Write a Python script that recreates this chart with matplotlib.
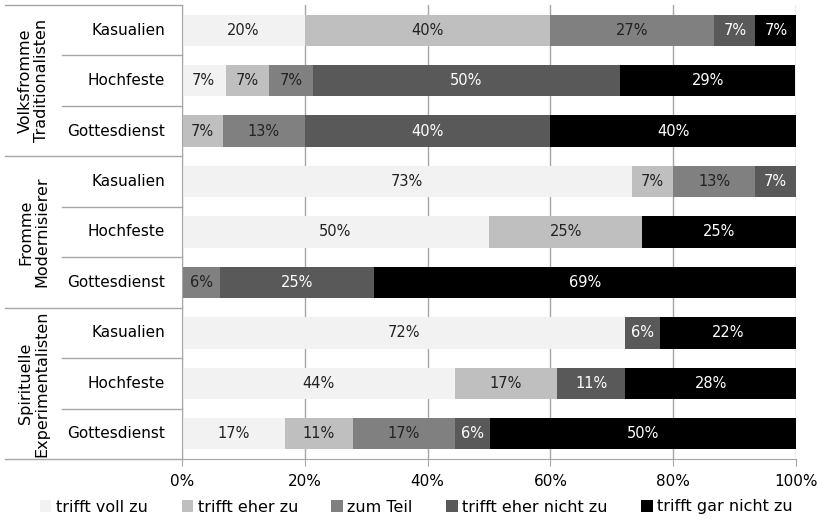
import matplotlib
matplotlib.use("Agg")
import matplotlib.pyplot as plt
import matplotlib.transforms as mtransforms

# data (percent)
groups = ["Volksfromme\nTraditionalisten", "Fromme\nModernisierer", "Spirituelle\nExperimentalisten"]
items = ["Kasualien", "Hochfeste", "Gottesdienst"]
answers = ["trifft voll zu", "trifft eher zu", "zum Teil", "trifft eher nicht zu", "trifft gar nicht zu"]

voll = [20.0, 7.1, 0, 73.3, 50.0, 0, 72.2, 44.4, 16.7]
eher = [40.0, 7.1, 6.7, 6.7, 25.0, 0, 0, 16.7, 11.1]
teil = [26.7, 7.1, 13.3, 13.3, 0, 6.2, 0, 0, 16.7]
eher_nicht = [6.7, 50.0, 40.0, 6.7, 0, 25.0, 5.6, 11.1, 5.6]
gar_nicht = [6.7, 28.6, 40.0, 0, 25.0, 68.8, 22.2, 27.8, 50.0]

series = [voll, eher, teil, eher_nicht, gar_nicht]
colors = ["#f2f2f2", "#bfbfbf", "#808080", "#595959", "#000000"]
text_colors = ["#222222", "#222222", "#222222", "white", "white"]

fig = plt.figure(figsize=(8.2, 5.19), dpi=100)
W, H = 820, 519
ax = fig.add_axes([182 / W, 1 - 459 / H, (796 - 182) / W, (459 - 5) / H])

n = len(voll)
rows = list(range(n))
left = [0] * n
for vals, c, tc, lab in zip(series, colors, text_colors, answers):
    ax.barh(rows, vals, left=left, height=0.62, color=c, label=lab, zorder=2)
    for r in rows:
        if vals[r] > 0:
            ax.text(left[r] + vals[r] / 2, r, "%d%%" % round(vals[r]),
                    ha="center", va="center", color=tc, fontsize=10.5, zorder=3)
    left = [a + b for a, b in zip(left, vals)]

ax.set_ylim(n - 0.5, -0.5)
ax.set_xlim(0, 100)
ax.set_xticks([0, 20, 40, 60, 80, 100])
ax.set_xticklabels(["0%", "20%", "40%", "60%", "80%", "100%"], fontsize=11)
ax.set_yticks([])
ax.xaxis.grid(True, color="#a6a6a6", linewidth=1, zorder=0)
ax.set_axisbelow(True)
for s in ["top", "right"]:
    ax.spines[s].set_visible(False)
ax.spines["left"].set_color("#a6a6a6")
ax.spines["bottom"].set_color("#a6a6a6")
ax.tick_params(axis="x", length=5, color="#a6a6a6", pad=6)

# table on the left
tr = mtransforms.blended_transform_factory(ax.transAxes, ax.transData)
x_grp = (5 - 182) / 614
x_sub = (62 - 182) / 614
lc = "#a6a6a6"
for r in rows:
    ax.text(-0.028, r, items[r % 3], ha="right", va="center", fontsize=11, transform=tr)
    y = r - 0.5
    if r % 3 == 0:
        ax.plot([x_grp, 0], [y, y], color=lc, lw=1, transform=tr, clip_on=False)
    else:
        ax.plot([x_sub, 0], [y, y], color=lc, lw=1, transform=tr, clip_on=False)
ax.plot([x_grp, 0], [n - 0.5, n - 0.5], color=lc, lw=1, transform=tr, clip_on=False)
for g, name in enumerate(groups):
    ax.text((x_grp + x_sub) / 2, g * 3 + 1, name, ha="center", va="center",
            rotation=90, fontsize=11.5, transform=tr, linespacing=1.1)

fig.legend(loc="center", bbox_to_anchor=(0.508, 1 - 507 / H), ncol=5, frameon=False,
           fontsize=11.5, handlelength=0.7, handleheight=0.7, handletextpad=0.3,
           columnspacing=2.1)

fig.savefig("out.png", dpi=100)
